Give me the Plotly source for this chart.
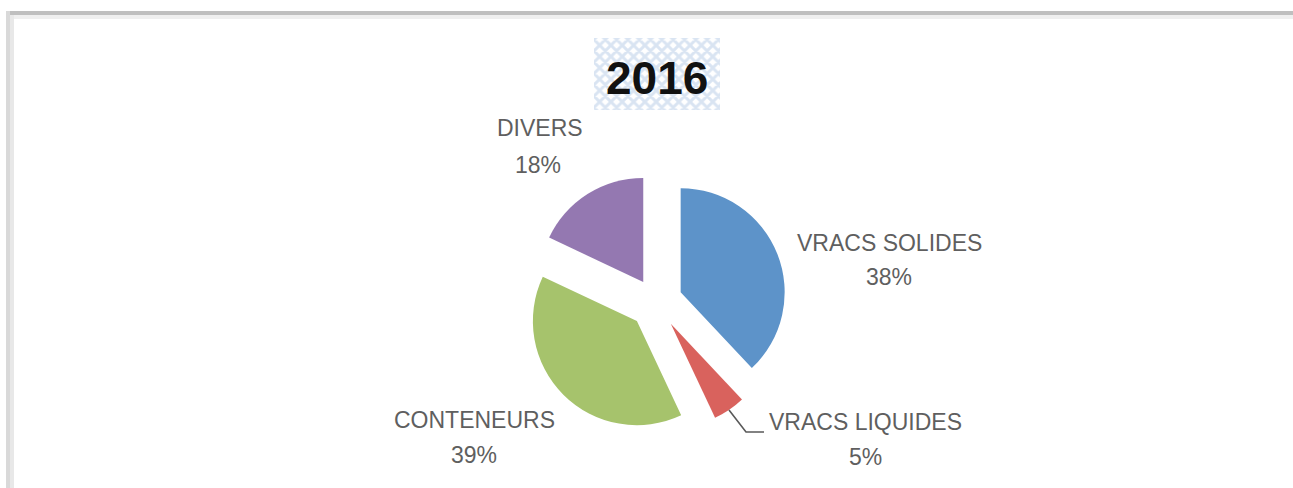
import plotly.graph_objects as go

# ---- data ----
categories = ["VRACS SOLIDES", "VRACS LIQUIDES", "CONTENEURS", "DIVERS"]
values = [38, 5, 39, 18]
title_text = "2016"

# ---- style ----
colors = ["#5d93c9", "#d9625d", "#a6c36c", "#9478b1"]
pulls = [0.255, 0.253, 0.26, 0.229]
W, H = 1293, 488
FONT = "Liberation Sans"
LABEL_COLOR = "#5f5f5f"

fig = go.Figure()

# hatched title background (decoration)
fig.add_trace(go.Scatter(
    x=[594, 720, 720, 594, 594], y=[38, 38, 110, 110, 38],
    mode="none", fill="toself", fillcolor="white",
    fillpattern=dict(shape="x", fgcolor="#b4c9e6", bgcolor="white", size=8, solidity=0.6),
    hoverinfo="skip", showlegend=False,
))

# pie
cx, cy, r = 656, 302, 104
box = 2 * r * (1 + max(pulls))
fig.add_trace(go.Pie(
    labels=categories, values=values, sort=False, direction="clockwise", rotation=0,
    marker=dict(colors=colors, line=dict(color="white", width=0)),
    pull=pulls, textinfo="none", hoverinfo="label+percent", showlegend=False,
    domain=dict(x=[(cx - box / 2) / W, (cx + box / 2) / W],
                y=[1 - (cy + box / 2) / H, 1 - (cy - box / 2) / H]),
))

# label positions (name line, percent line) in pixel coords
label_pos = {
    "VRACS SOLIDES": ((889, 243), (889, 277)),
    "VRACS LIQUIDES": ((865, 422), (865, 457)),
    "CONTENEURS": ((474, 420), (474, 455)),
    "DIVERS": ((540, 128), (538, 165)),
}
total = sum(values)
annotations = []
for cat, val in zip(categories, values):
    (nx, ny), (px, py) = label_pos[cat]
    annotations.append(dict(x=nx, y=ny, xref="x", yref="y", text=cat, showarrow=False,
                            font=dict(family=FONT, size=23, color=LABEL_COLOR),
                            xanchor="center", yanchor="middle"))
    annotations.append(dict(x=px, y=py, xref="x", yref="y",
                            text=f"{round(100 * val / total)}%", showarrow=False,
                            font=dict(family=FONT, size=23, color=LABEL_COLOR),
                            xanchor="center", yanchor="middle"))
annotations.append(dict(x=657, y=78, xref="x", yref="y", text=f"<b>{title_text}</b>",
                        showarrow=False, font=dict(family=FONT, size=46, color="#111111"),
                        xanchor="center", yanchor="middle"))

shapes = [
    # chart border (top / left)
    dict(type="rect", xref="x", yref="y", x0=6, x1=W, y0=11, y1=15, fillcolor="#bfbfbf", line_width=0),
    dict(type="rect", xref="x", yref="y", x0=10, x1=W, y0=15, y1=19, fillcolor="#efefef", line_width=0),
    dict(type="rect", xref="x", yref="y", x0=6, x1=10, y0=11, y1=H, fillcolor="#d9d9d9", line_width=0),
    dict(type="rect", xref="x", yref="y", x0=10, x1=14, y0=15, y1=H, fillcolor="#e8e8e8", line_width=0),
    # leader line for VRACS LIQUIDES
    dict(type="path", xref="x", yref="y", path="M 729 410 L 746 432 L 764 432",
         line=dict(color="#595959", width=1.6)),
]

fig.update_layout(
    width=W, height=H, margin=dict(l=0, r=0, t=0, b=0),
    paper_bgcolor="white", plot_bgcolor="white",
    xaxis=dict(range=[0, W], visible=False, fixedrange=True, domain=[0, 1]),
    yaxis=dict(range=[H, 0], visible=False, fixedrange=True, domain=[0, 1]),
    annotations=annotations, shapes=shapes,
)

fig.write_html(
    "out.html",
    config={"displayModeBar": False},
    post_script="document.body.style.margin='0';document.body.style.overflow='hidden';",
)
